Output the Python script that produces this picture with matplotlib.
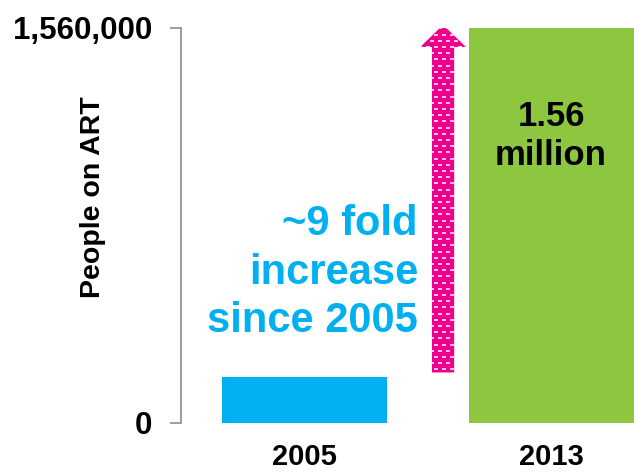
import matplotlib
matplotlib.use("Agg")
import matplotlib.pyplot as plt
import numpy as np
from matplotlib.patches import Polygon
from matplotlib.transforms import IdentityTransform

# Data
years = ["2005", "2013"]
people_on_art = [180000, 1560000]
ytick_values = [0, 1560000]
ytick_labels = ["0", "1,560,000"]

BLUE = "#00B0F0"
GREEN = "#8DC63F"
PINK = "#EC008C"
GREY = "#8C8C8C"

plt.rcParams["font.family"] = ["Liberation Sans", "DejaVu Sans"]
plt.rcParams["font.weight"] = "bold"

W, H = 634, 473
fig = plt.figure(figsize=(W / 100, H / 100), dpi=100)
ax = fig.add_axes([181 / W, 1 - 422.5 / H, 1 - 181 / W, (422.5 - 28) / H])

x = np.arange(len(years))
ax.bar(x, people_on_art, width=0.67, color=[BLUE, GREEN], zorder=2)

ax.set_xlim(-0.5, 1.334)
ax.set_ylim(0, 1560000)

for side in ("top", "right", "bottom"):
    ax.spines[side].set_visible(False)
ax.spines["left"].set_color(GREY)
ax.spines["left"].set_linewidth(1.2)

ax.set_yticks(ytick_values)
ax.set_yticklabels(ytick_labels, fontsize=22.5, fontweight="bold")
ax.tick_params(axis="y", length=8, width=1.2, color=GREY, pad=13)
ax.set_xticks(x)
ax.set_xticklabels(years, fontsize=21, fontweight="bold")
ax.tick_params(axis="x", length=0, pad=15)

fig.text(93 / W, 1 - 197 / H, "People on ART", rotation=90, fontsize=20.5,
         fontweight="bold", ha="center", va="center")

# Upward arrow showing the increase between the two years
ax_x = 0.561
body_hw = 0.045
head_hw = 0.092
y0 = people_on_art[0] * 1.1
y_tip = people_on_art[1] * 1.008
y_head = people_on_art[1] * 0.952
arrow_pts = [
    (ax_x - body_hw, y0), (ax_x + body_hw, y0), (ax_x + body_hw, y_head),
    (ax_x + head_hw, y_head), (ax_x, y_tip), (ax_x - head_hw, y_head),
    (ax_x - body_hw, y_head),
]
arrow = Polygon(arrow_pts, closed=True, facecolor=PINK, edgecolor="none", zorder=3)
ax.add_patch(arrow)

# Brick-like white dash texture inside the arrow
fig.canvas.draw()
(px0, py0) = ax.transData.transform((ax_x - head_hw, y0))
(px1, py1) = ax.transData.transform((ax_x + head_hw, y_tip))
dx, dy = 8.0, 6.2
pts = []
row = 0
yy = py0 + 3
while yy < py1:
    off = (dx / 2) if row % 2 else 0
    xx = px0 + off
    while xx < px1:
        pts.append((xx, yy))
        xx += dx
    yy += dy
    row += 1
pts = np.array(pts)
dashes, = ax.plot(pts[:, 0], pts[:, 1], linestyle="none", marker="_",
                  markersize=3.0, markeredgewidth=1.3, color="white",
                  alpha=0.75, transform=IdentityTransform(), zorder=4)
dashes.set_clip_path(arrow)

fig.text(418 / W, 1 - 332 / H, "~9 fold\nincrease\nsince 2005",
         fontsize=30, fontweight="bold", color=BLUE, ha="right", va="baseline",
         multialignment="right", linespacing=1.27)

fig.text(551 / W, 1 - 165 / H, "1.56\nmillion", fontsize=25, fontweight="bold",
         color="black", ha="center", va="baseline", linespacing=1.25, zorder=5)

fig.savefig("out.png", dpi=100)
